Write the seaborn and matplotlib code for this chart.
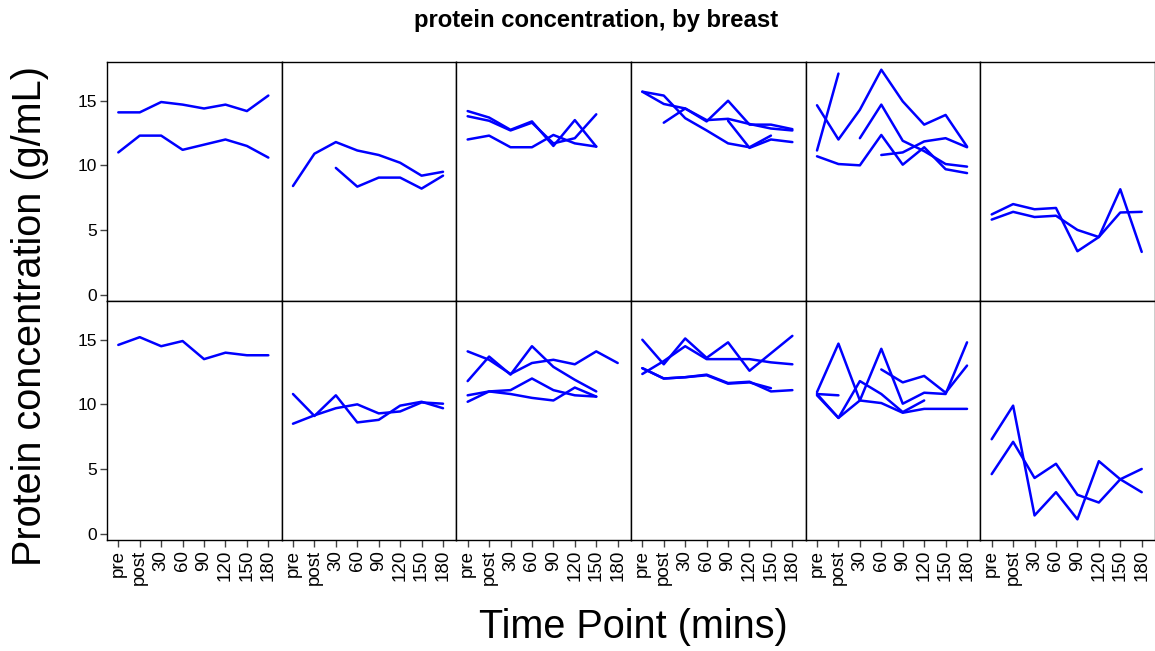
import numpy as np
import pandas as pd
import matplotlib
matplotlib.use("Agg")
import matplotlib.pyplot as plt
import seaborn as sns

# Sampling times after feeding
time_labels = ["pre", "post", "30", "60", "90", "120", "150", "180"]
NA = np.nan

# Protein concentration (g/mL) per breast; one list per line, NA where not sampled
panel_01 = [[14.1, 14.1, 14.9, 14.7, 14.4, 14.7, 14.2, 15.4],
            [11.0, 12.3, 12.3, 11.2, 11.6, 12.0, 11.5, 10.6]]
panel_02 = [[8.4, 10.9, 11.8, 11.15, 10.8, 10.2, 9.2, 9.5],
            [NA, NA, 9.8, 8.35, 9.05, 9.05, 8.2, 9.2]]
panel_03 = [[14.2, 13.7, 12.75, 13.4, 11.5, 13.5, 11.45, NA],
            [13.8, 13.45, 12.7, 13.3, 11.7, 12.1, 13.95, NA],
            [12.0, 12.3, 11.4, 11.4, 12.35, 11.7, 11.45, NA]]
panel_04 = [[15.7, 15.4, 13.65, 12.7, 11.7, 11.4, 12.3, NA],
            [15.7, 14.75, 14.4, 13.4, 15.0, 13.15, 13.15, 12.8],
            [NA, 13.3, 14.4, 13.5, 13.6, 13.2, 12.85, 12.7],
            [NA, NA, NA, NA, 13.45, 11.35, 12.0, 11.8]]
panel_05 = [[11.15, 17.1, NA, NA, NA, NA, NA, NA],
            [14.65, 12.0, 14.3, 17.4, 14.95, 13.15, 13.9, 11.45],
            [NA, NA, 12.1, 14.7, 11.9, 11.1, 10.1, 9.9],
            [10.7, 10.1, 10.0, 12.35, 10.05, 11.4, 9.7, 9.4],
            [NA, NA, NA, 10.8, 11.0, 11.85, 12.1, 11.4]]
panel_06 = [[6.2, 7.0, 6.6, 6.7, 3.35, 4.45, 8.15, 3.3],
            [5.8, 6.4, 6.0, 6.1, 5.0, 4.45, 6.35, 6.4]]
panel_07 = [[14.6, 15.2, 14.5, 14.9, 13.5, 14.0, 13.8, 13.8]]
panel_08 = [[10.8, 9.1, 10.7, 8.6, 8.8, 9.9, 10.2, 9.7],
            [8.5, 9.15, 9.7, 10.0, 9.3, 9.45, 10.15, 10.05]]
panel_09 = [[14.1, 13.45, 12.35, 13.2, 13.45, 13.1, 14.1, 13.2],
            [11.8, 13.7, 12.3, 14.5, 12.9, 11.9, 11.0, NA],
            [10.7, 11.0, 11.1, 12.0, 11.1, 10.7, 10.6, NA],
            [10.2, 11.0, 10.8, 10.5, 10.3, 11.3, 10.6, NA]]
panel_10 = [[15.0, 13.1, 15.1, 13.6, 14.8, 12.6, 13.95, 15.3],
            [12.35, 13.35, 14.5, 13.5, 13.5, 13.5, 13.25, 13.1],
            [12.8, 12.0, 12.1, 12.3, 11.65, 11.75, 11.0, 11.1],
            [12.8, 12.0, 12.1, 12.25, 11.6, 11.7, 11.25, NA]]
panel_11 = [[10.95, 14.7, 10.3, 10.1, 9.35, 9.65, 9.65, 9.65],
            [10.8, 10.7, NA, NA, NA, NA, NA, NA],
            [10.8, 8.95, 11.8, 10.8, 9.4, 10.3, NA, NA],
            [10.7, 8.95, 10.3, 14.3, 10.05, 10.9, 10.8, 14.8],
            [NA, NA, NA, 12.7, 11.7, 12.2, 10.9, 13.0]]
panel_12 = [[7.3, 9.9, 1.4, 3.2, 1.1, 5.6, 4.2, 3.2],
            [4.6, 7.1, 4.3, 5.4, 3.0, 2.4, 4.2, 5.0]]

panels = [panel_01, panel_02, panel_03, panel_04, panel_05, panel_06,
          panel_07, panel_08, panel_09, panel_10, panel_11, panel_12]

rows = []
for p, lines in enumerate(panels):
    for k, series in enumerate(lines):
        for t, v in enumerate(series):
            if not np.isnan(v):
                rows.append({"panel": p, "breast": k, "time": t, "protein": v})
df = pd.DataFrame(rows)

sns.set_theme(style="white")
plt.rcParams["font.family"] = ["Liberation Sans", "DejaVu Sans"]
plt.rcParams["text.color"] = "black"
plt.rcParams["xtick.color"] = "black"
plt.rcParams["ytick.color"] = "black"

fig, axes = plt.subplots(2, 6, figsize=(11.55, 6.51), dpi=100,
                         sharex=True, sharey=True)
fig.subplots_adjust(left=0.0926, right=1.0, top=0.9048, bottom=0.1705,
                    wspace=0, hspace=0)

for p, ax in enumerate(axes.flat):
    sub = df[df["panel"] == p]
    sns.lineplot(data=sub, x="time", y="protein", units="breast",
                 estimator=None, color="#0000ff", linewidth=1.8,
                 legend=False, ax=ax, sort=False)
    ax.set_xlim(-0.53, 7.62)
    ax.set_ylim(-0.5, 18.0)
    ax.set_xlabel("")
    ax.set_ylabel("")
    for s in ax.spines.values():
        s.set_color("black")
        s.set_linewidth(1.0)
    r, c = divmod(p, 6)
    ax.set_xticks(range(len(time_labels)))
    ax.set_xticklabels(time_labels)
    ax.set_yticks([0, 5, 10, 15])
    ax.tick_params(axis="x", which="both", direction="out", length=5,
                   width=1, color="#444444", labelcolor="black",
                   labelsize=13.5, labelrotation=90, pad=2,
                   bottom=(r == 1), labelbottom=(r == 1))
    ax.tick_params(axis="y", which="both", direction="out", length=5,
                   width=1, color="#444444", labelcolor="black",
                   labelsize=12.5, pad=2,
                   left=(c == 0), labelleft=(c == 0))

fig.text(0.516, 0.969, "protein concentration, by breast",
         ha="center", va="center", fontsize=17.2, fontweight="bold")
fig.text(0.026, 0.5146, "Protein concentration (g/mL)", rotation=90,
         ha="center", va="center", fontsize=28.5)
fig.text(0.548, 0.037, "Time Point (mins)", ha="center", va="center",
         fontsize=28.5)

fig.savefig("out.png", dpi=100)
